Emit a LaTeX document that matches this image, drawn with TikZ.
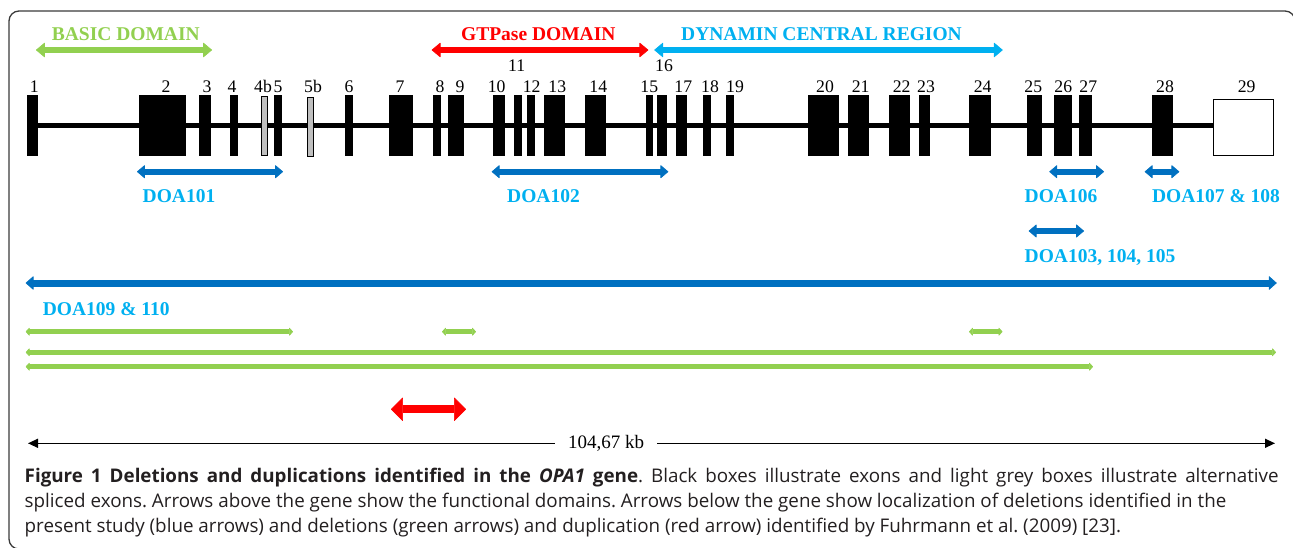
\documentclass[tikz,border=0pt]{standalone}
\usepackage{fontspec}
\setmainfont{Liberation Serif}
\newfontfamily\capfont{Open Sans}
\usetikzlibrary{arrows.meta,backgrounds}
\frenchspacing
\definecolor{cgreen}{HTML}{92D050}
\definecolor{cred}{HTML}{FF0000}
\definecolor{ccyan}{HTML}{00B0F0}
\definecolor{cblue}{HTML}{0070C0}
\definecolor{cgray}{HTML}{BFBFBF}
\definecolor{frameclr}{HTML}{3A3A3A}
\definecolor{captxt}{HTML}{231F20}
\tikzset{
  exon/.style={fill=black, draw=none, inner sep=0pt, outer sep=0pt, minimum height=61pt},
  altexon/.style={fill=cgray, draw=black, line width=0.8pt, inner sep=0pt, outer sep=0pt, minimum height=59pt},
  lastexon/.style={fill=white, draw=black, line width=1.4pt, inner sep=0pt, outer sep=0pt, minimum height=56pt, minimum width=60pt},
  gene/.style={line width=4.5pt, black},
  num/.style={font=\fontsize{17.7}{20}\selectfont, anchor=base, inner sep=0pt},
  lab/.style={font=\fontsize{19.5}{22}\selectfont\bfseries, anchor=base, inner sep=0pt},
  domarrow/.style={line width=6.5pt, arrows={Triangle[length=9pt,width=15pt,line width=0.6pt,round]-Triangle[length=9pt,width=15pt,line width=0.6pt,round]}},
  doaarrow/.style={cblue, line width=6pt, arrows={Triangle[length=8pt,width=13.5pt,line width=0.6pt,round]-Triangle[length=8pt,width=13.5pt,line width=0.6pt,round]}},
  bigdoa/.style={cblue, line width=7pt, arrows={Triangle[length=8pt,width=14pt,line width=0.6pt,round]-Triangle[length=8pt,width=14pt,line width=0.6pt,round]}},
  delarrow/.style={cgreen, line width=5pt, arrows={Triangle[length=4pt,width=8.5pt,line width=0.6pt,round]-Triangle[length=4pt,width=8.5pt,line width=0.6pt,round]}},
  duparrow/.style={cred, line width=8pt, arrows={Triangle[length=12pt,width=24pt,line width=0.6pt,round]-Triangle[length=12pt,width=24pt,line width=0.6pt,round]}},
  scalearrow/.style={black, line width=1.3pt, -{Triangle[length=10pt,width=9pt]}},
  capline/.style={anchor=base west, inner sep=0pt, text=captxt, font=\capfont\fontsize{18.8}{22}\selectfont},
  framestyle/.style={draw=frameclr, line width=1.3pt, rounded corners=10pt}
}
\begin{document}
\begin{tikzpicture}[x=1pt,y=-1pt]
\useasboundingbox (0,0) rectangle (1293,547);
% frame
\draw[framestyle] (24,549) -- (9,549) -- (9,11) -- (1295,11) -- (1295,60);

% exons
\foreach \n/\a/\b in {1/27.3/38.3, 2/138.7/186, 3/199.3/210.7, 4/230/237.7, 5/274/281.7,
  6/345/352.7, 7/389/413.3, 8/432.7/440.7, 9/447.7/464, 10/493.3/505, 11/514/521.7,
  12/527.3/535.3, 13/544/565.3, 14/584.7/606, 15/645.7/653.3, 16/657.3/667.3,
  17/676/687.3, 18/703.3/711, 19/726/734, 20/807.7/839, 21/848/869, 22/888.7/910.3,
  23/919.3/930.3, 24/969.3/991, 25/1027/1042, 26/1054/1072.3, 27/1079/1092.3, 28/1152/1173.3}{
  \pgfmathsetmacro\w{\b-\a}
  \pgfmathsetmacro\c{(\a+\b)/2}
  \node[exon, minimum width=\w pt] (e\n) at (\c,125.5) {};
}
\node[altexon, minimum width=6.2pt] (e4b) at (264.2,126.2) {};
\node[altexon, minimum width=5.6pt] (e5b) at (310.5,126.5) {};
\node[lastexon] (e29) at (1243.5,127.4) {};
\begin{scope}[on background layer]
  \draw[gene] (e1.center) -- (e1.center -| e29.west);
\end{scope}

% exon numbers
\foreach \t/\x in {1/34.3, 2/166, 3/207, 4/232, 4b/263, 5/278, 5b/313, 6/349, 7/400,
  8/440, 9/460, 10/496.7, 12/531.7, 13/557.3, 14/598.3, 15/649.3, 17/683.3, 18/710,
  19/735, 20/825, 21/860.7, 22/901.7, 23/926, 24/982.7, 25/1033.3, 26/1063.3,
  27/1088.3, 28/1165, 29/1246.7}{
  \node[num] (n\t) at (\x,92) {\t};
}
\node[num] (n11) at (516.7,71) {11};
\node[num] (n16) at (664,71) {16};

% domains
\node[lab, text=cgreen] (basic) at (125.8,40) {BASIC DOMAIN};
\node[lab, text=cred] (gtp) at (538.3,40) {GTPase DOMAIN};
\node[lab, text=ccyan] (dyn) at (821.5,40) {DYNAMIN CENTRAL REGION};
\coordinate (bA) at (36,50);      \coordinate (bB) at (212,50);
\coordinate (gA) at (431.7,50);   \coordinate (gB) at (648.3,50);
\coordinate (dA) at (654.3,50);   \coordinate (dB) at (1002.7,50);
\draw[domarrow, cgreen] (bA) -- (bB);
\draw[domarrow, cred] (gA) -- (gB);
\draw[domarrow, ccyan] (dA) -- (dB);

% present-study deletions
\coordinate (d101A) at (137,171.7);    \coordinate (d101B) at (283,171.7);
\coordinate (d102A) at (491.7,171.7);  \coordinate (d102B) at (668.3,171.7);
\coordinate (d106A) at (1049.3,171.7); \coordinate (d106B) at (1104,171.7);
\coordinate (d107A) at (1144.7,171.7); \coordinate (d107B) at (1179.3,171.7);
\coordinate (d103A) at (1028.7,231);   \coordinate (d103B) at (1084,231);
\coordinate (d109A) at (25.7,283);     \coordinate (d109B) at (1276.7,283);
\draw[doaarrow] (d101A) -- (d101B);
\draw[doaarrow] (d102A) -- (d102B);
\draw[doaarrow] (d106A) -- (d106B);
\draw[doaarrow] (d107A) -- (d107B);
\draw[doaarrow] (d103A) -- (d103B);
\draw[bigdoa] (d109A) -- (d109B);
\node[lab, text=ccyan] (l101) at (179,202.3) {DOA101};
\node[lab, text=ccyan] (l102) at (543.5,202.3) {DOA102};
\node[lab, text=ccyan] (l106) at (1061,202.3) {DOA106};
\node[lab, text=ccyan] (l107) at (1216,202.3) {DOA107 \& 108};
\node[lab, text=ccyan] (l103) at (1100,262.7) {DOA103, 104, 105};
\node[lab, text=ccyan, anchor=base west] (l109) at (42.7,315) {DOA109 \& 110};

% Fuhrmann deletions
\coordinate (g1A) at (25.7,331.7);  \coordinate (g1B) at (293,331.7);
\coordinate (g2A) at (442,331.7);   \coordinate (g2B) at (476,331.7);
\coordinate (g3A) at (969,331.7);   \coordinate (g3B) at (1002.5,331.7);
\coordinate (g4A) at (25.7,352.3);  \coordinate (g4B) at (1276,352.3);
\coordinate (g5A) at (25.7,366.7);  \coordinate (g5B) at (1093,366.7);
\draw[delarrow] (g1A) -- (g1B);
\draw[delarrow] (g2A) -- (g2B);
\draw[delarrow] (g3A) -- (g3B);
\draw[delarrow] (g4A) -- (g4B);
\draw[delarrow] (g5A) -- (g5B);

% duplication
\coordinate (rA) at (391,409.3); \coordinate (rB) at (466,409.3);
\draw[duparrow] (rA) -- (rB);

% scale
\node[font=\fontsize{19}{22}\selectfont, inner xsep=13pt, inner ysep=0pt] (kb) at (606,443.3) {104,67 kb};
\coordinate (sL) at (28,443.3); \coordinate (sR) at (1275,443.3);
\draw[scalearrow] (kb.west) -- (sL);
\draw[scalearrow] (kb.east) -- (sR);

% caption
\node[capline] (c1) at (24.5,482) {\makebox[1254pt][s]{\textbf{Figure 1 Deletions and duplications identified in the \textit{OPA1} gene}. Black boxes illustrate exons and light grey boxes illustrate alternative}};
\node[capline] (c2) at (24.5,507.5) {spliced exons. Arrows above the gene show the functional domains. Arrows below the gene show localization of deletions identified in the};
\node[capline] (c3) at (24.5,532) {present study (blue arrows) and deletions (green arrows) and duplication (red arrow) identified by Fuhrmann et al. (2009) [23].};
\end{tikzpicture}
\end{document}
